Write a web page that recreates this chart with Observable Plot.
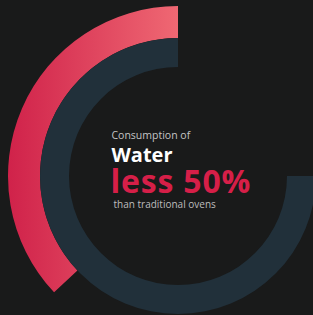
<!DOCTYPE html>
<html><head><meta charset="utf-8">
<script src="https://cdn.jsdelivr.net/npm/d3@7"></script>
<script src="https://cdn.jsdelivr.net/npm/@observablehq/plot@0.6"></script>
<style>html,body{margin:0;padding:0;background:#191a1a;overflow:hidden}#chart svg{display:block}</style>
</head><body><div id="chart"></div>
<script>
// Data
const ringNames = ["Traditional", "Water consumption"];
const ringValues = [37, 75]; // percent of full circle, ending at 12 o'clock
const labelLines = ["Consumption of", "Water", "less 50%", "than traditional ovens"];

// Layout / style
const W = 313, H = 315, cx = 178, cy = 176;
const ringRadii = [[138, 170], [109, 138]];
const ringFills = ["url(#redGrad)", "#21303a"];

function arcsMark(index, scales) {
  const angle = scales && scales.x ? scales.x : d3.scaleLinear([0, 100], [0, 2 * Math.PI]);
  const g = d3.create("svg:g");
  const grad = g.append("defs").append("linearGradient")
    .attr("id", "redGrad").attr("gradientUnits", "userSpaceOnUse")
    .attr("x1", -170).attr("x2", 0).attr("y1", 0).attr("y2", 0);
  grad.append("stop").attr("offset", 0).attr("stop-color", "#d0224a");
  grad.append("stop").attr("offset", 1).attr("stop-color", "#ef6873");
  ringValues.forEach((v, i) => {
    const path = d3.arc()({
      innerRadius: ringRadii[i][0], outerRadius: ringRadii[i][1],
      startAngle: angle(100 - v), endAngle: angle(100)
    });
    g.append("path").attr("d", path).attr("fill", ringFills[i])
      .attr("transform", `translate(${cx},${cy})`)
      .append("title").text(`${ringNames[i]}: ${v}%`);
  });
  return g.node();
}

const textSpecs = [
  {dx: 111, dy: 138, fontSize: 10.5, fill: "#c4c4c4", fontWeight: 400, ls: 0},
  {dx: 111, dy: 161, fontSize: 20, fill: "#ffffff", fontWeight: 700, ls: 0},
  {dx: 110, dy: 192, fontSize: 32, fill: "#d61f48", fontWeight: 700, ls: 0.8},
  {dx: 113, dy: 207, fontSize: 10, fill: "#bdbdbd", fontWeight: 400, ls: 0}
];

const chart = Plot.plot({
  width: W, height: H, margin: 0,
  style: {background: "#191a1a"},
  x: {domain: [0, 100], range: [0, 2 * Math.PI], axis: null},
  marks: [
    arcsMark,
    ...labelLines.map((t, i) => {
      const {ls, ...spec} = textSpecs[i];
      return Plot.text([t], {
        frameAnchor: "top-left", text: d => d, textAnchor: "start", lineAnchor: "bottom",
        fontFamily: "Open Sans", ...spec,
        render(index, scales, values, dims, ctx, next) {
          const el = next(index, scales, values, dims, ctx);
          if (ls) d3.select(el).selectAll("text").attr("letter-spacing", ls);
          return el;
        }
      });
    })
  ]
});
document.getElementById("chart").appendChild(chart);
</script></body></html>
